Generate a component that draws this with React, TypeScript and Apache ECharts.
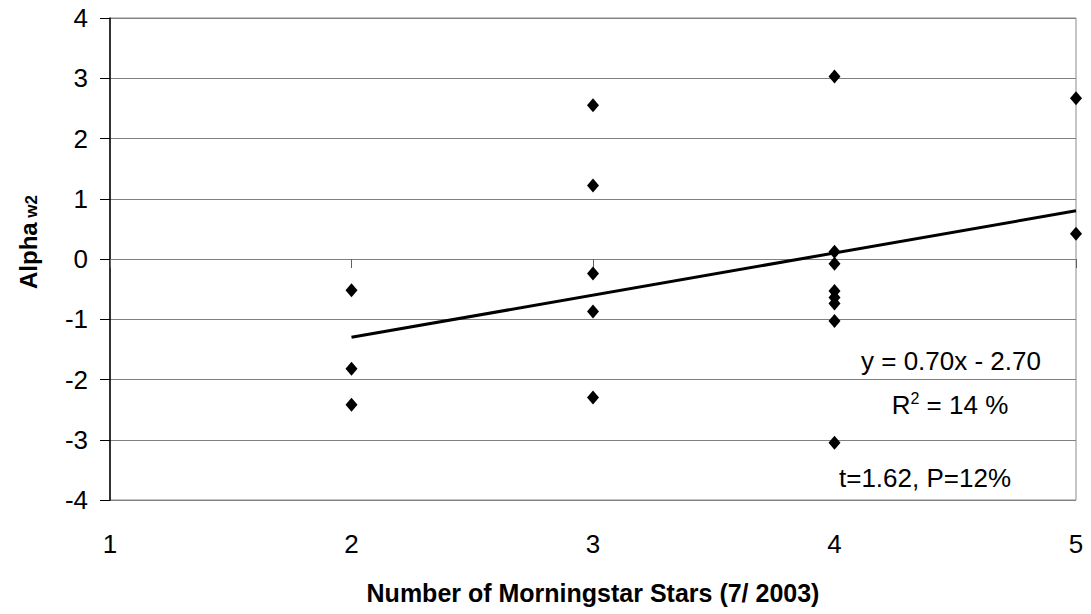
import React, { useEffect, useRef } from "react";
import * as echarts from "echarts";

const stars = [2, 2, 2, 3, 3, 3, 3, 3, 4, 4, 4, 4, 4, 4, 4, 4, 5, 5];
const alpha = [-0.52, -1.82, -2.42, 2.55, 1.22, -0.24, -0.87, -2.3, 3.03, 0.12, -0.08, -0.53, -0.64, -0.74, -1.03, -3.05, 2.67, 0.42];
const slope = 0.7;
const intercept = -2.7;
const trendX = [2, 5];
const xTicks = [1, 2, 3, 4, 5];
const yTicks = [-4, -3, -2, -1, 0, 1, 2, 3, 4];
const eqText = "y = 0.70x - 2.70";
const r2Value = " = 14 %";
const tpText = "t=1.62, P=12%";
const xTitle = "Number of Morningstar Stars (7/ 2003)";
const yTitleMain = "Alpha";
const yTitleSub = " w2";

const FONT = "'Liberation Sans', Arial, sans-serif";

export default function App() {
  const ref = useRef<HTMLDivElement>(null);
  useEffect(() => {
    if (!ref.current) return;
    const chart = echarts.init(ref.current, null, { renderer: "svg" });
    const points = stars.map((s, i) => [s, alpha[i]]);
    const trend = trendX.map((x) => [x, slope * x + intercept]);
    chart.setOption({
      animation: false,
      backgroundColor: "#fff",
      textStyle: { fontFamily: FONT },
      grid: {
        left: 110,
        top: 18,
        right: 15,
        bottom: 114,
        show: true,
        borderColor: "#8c8c8c",
        borderWidth: 1,
      },
      xAxis: [
        {
          type: "value",
          min: xTicks[0],
          max: xTicks[xTicks.length - 1],
          interval: 1,
          position: "bottom",
          axisLine: { show: false, onZero: false },
          axisTick: { show: false },
          splitLine: { show: false },
          axisLabel: { fontSize: 26, color: "#000", margin: 31, fontFamily: FONT },
          name: xTitle,
          nameLocation: "middle",
          nameGap: 80,
          nameTextStyle: { fontSize: 25, fontWeight: "bold", color: "#000", fontFamily: FONT },
        },
        {
          type: "value",
          min: xTicks[0],
          max: xTicks[xTicks.length - 1],
          interval: 1,
          position: "bottom",
          axisLine: { show: true, onZero: true, lineStyle: { color: "#808080", width: 1 } },
          axisTick: { show: true, inside: false, length: 9, lineStyle: { color: "#606060" } },
          axisLabel: { show: false },
          splitLine: { show: false },
        },
      ],
      yAxis: {
        type: "value",
        min: yTicks[0],
        max: yTicks[yTicks.length - 1],
        interval: 1,
        axisLine: { show: true, onZero: false, lineStyle: { color: "#000", width: 1.5 } },
        axisTick: { show: true, length: 10, lineStyle: { color: "#000" } },
        axisLabel: { fontSize: 26, color: "#000", margin: 22, fontFamily: FONT },
        splitLine: { show: true, lineStyle: { color: "#808080", width: 1 } },
      },
      series: [
        {
          type: "scatter",
          xAxisIndex: 0,
          data: points,
          symbol: "diamond",
          symbolSize: [12, 14],
          itemStyle: { color: "#000", opacity: 1 },
          z: 5,
        },
        {
          type: "line",
          xAxisIndex: 0,
          data: trend,
          symbol: "none",
          lineStyle: { color: "#000", width: 3 },
          z: 4,
        },
      ],
      graphic: [
        {
          type: "text",
          x: 28,
          y: 242,
          rotation: Math.PI / 2,
          style: {
            text: "{a|" + yTitleMain + "}{b|" + yTitleSub + "}",
            align: "center",
            verticalAlign: "middle",
            rich: {
              a: { fontSize: 24, fontWeight: "bold", fill: "#000", fontFamily: FONT },
              b: { fontSize: 17, fontWeight: "bold", fill: "#000", fontFamily: FONT, padding: [7, 0, 0, 0] },
            },
          },
        },
        {
          type: "text",
          x: 951,
          y: 361,
          style: {
            text: eqText,
            fontSize: 26,
            fontFamily: FONT,
            fill: "#000",
            align: "center",
            verticalAlign: "middle",
          },
        },
        {
          type: "text",
          x: 950,
          y: 405,
          style: {
            text: "{a|R}{s|2}{a|" + r2Value + "}",
            align: "center",
            verticalAlign: "middle",
            rich: {
              a: { fontSize: 26, fontFamily: FONT, fill: "#000" },
              s: { fontSize: 16, fontFamily: FONT, fill: "#000", padding: [0, 0, 14, 0] },
            },
          },
        },
        {
          type: "text",
          x: 925,
          y: 478,
          style: {
            text: tpText,
            fontSize: 26,
            fontFamily: FONT,
            fill: "#000",
            align: "center",
            verticalAlign: "middle",
          },
        },
      ],
    });
    return () => chart.dispose();
  }, []);
  return (
    <div
      ref={ref}
      style={{ position: "fixed", left: 0, top: 0, width: 1091, height: 614, background: "#fff" }}
    />
  );
}
